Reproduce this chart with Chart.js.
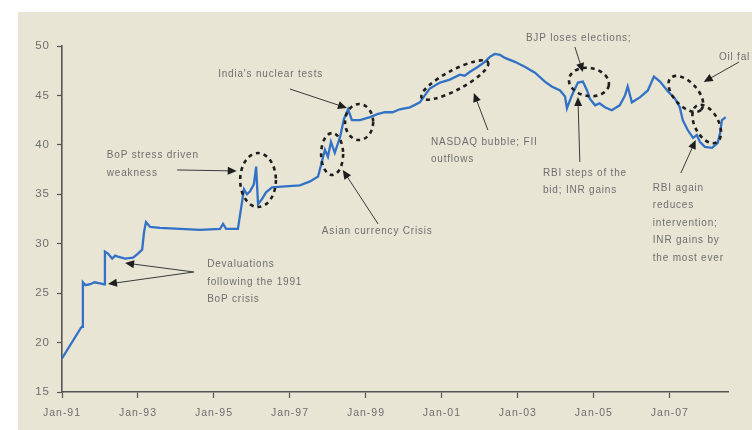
<!DOCTYPE html>
<html>
<head>
<meta charset="utf-8">
<script src="https://cdn.jsdelivr.net/npm/chart.js@4.4.1/dist/chart.umd.min.js"></script>
<style>
  html, body { margin: 0; padding: 0; background: #ffffff; }
  #wrap { width: 752px; height: 430px; }
</style>
</head>
<body>
<div id="wrap"><canvas id="c" width="752" height="430"></canvas></div>
<script>
// INR per USD, read at irregular dates (decimal years)
const years = [
  1991.00, 1991.50, 1991.53, 1991.55, 1991.62, 1991.74, 1991.86, 1992.00, 1992.11, 1992.13,
  1992.21, 1992.32, 1992.40, 1992.47, 1992.66, 1992.87, 1993.00, 1993.11, 1993.16, 1993.21,
  1993.32, 1993.58, 1994.11, 1994.63, 1995.16, 1995.24, 1995.32, 1995.63, 1995.71, 1995.79,
  1995.87, 1995.95, 1996.05, 1996.11, 1996.16, 1996.26, 1996.37, 1996.53, 1996.87, 1997.26,
  1997.53, 1997.74, 1997.84, 1997.92, 1998.00, 1998.08, 1998.18, 1998.32, 1998.42, 1998.53,
  1998.63, 1998.84, 1999.11, 1999.30, 1999.50, 1999.70, 1999.89, 2000.16, 2000.42, 2000.55,
  2000.68, 2000.95, 2001.21, 2001.47, 2001.60, 2001.74, 2001.95, 2002.13, 2002.26, 2002.39,
  2002.53, 2002.66, 2002.92, 2003.18, 2003.45, 2003.71, 2003.89, 2004.11, 2004.24, 2004.29,
  2004.42, 2004.58, 2004.71, 2004.82, 2004.89, 2005.03, 2005.15, 2005.29, 2005.47, 2005.68,
  2005.82, 2005.89, 2006.00, 2006.21, 2006.42, 2006.58, 2006.74, 2006.95, 2007.13, 2007.26,
  2007.34, 2007.47, 2007.61, 2007.71, 2007.79, 2007.92, 2008.11, 2008.26, 2008.32, 2008.37,
  2008.47
];
const inrPerUsd = [
  18.4, 21.5, 21.6, 26.1, 25.8, 25.9, 26.1, 26.0, 25.9, 29.2,
  29.0, 28.5, 28.8, 28.7, 28.5, 28.6, 29.0, 29.4, 31.2, 32.2,
  31.7, 31.6, 31.5, 31.4, 31.5, 32.0, 31.5, 31.5, 33.5, 35.5,
  35.0, 35.3, 36.0, 37.8, 34.0, 34.5, 35.2, 35.7, 35.8, 35.9,
  36.3, 36.8, 38.3, 39.5, 38.8, 40.3, 39.2, 40.8, 42.6, 43.6,
  42.5, 42.5, 42.8, 43.1, 43.3, 43.3, 43.6, 43.8, 44.3, 45.0,
  45.7, 46.3, 46.6, 47.1, 47.0, 47.4, 47.9, 48.4, 48.9, 49.2,
  49.1, 48.8, 48.4, 47.9, 47.3, 46.4, 45.9, 45.5, 44.9, 43.7,
  45.0, 46.3, 46.4, 45.5, 44.7, 44.0, 44.2, 43.8, 43.5, 44.0,
  45.0, 45.9, 44.3, 44.8, 45.5, 46.9, 46.4, 45.4, 44.7, 43.8,
  42.5, 41.5, 40.7, 41.0, 40.3, 39.8, 39.7, 40.2, 41.2, 42.5,
  42.8
];
const xTickYears = [1991, 1993, 1995, 1997, 1999, 2001, 2003, 2005, 2007];
const yTicks = [15, 20, 25, 30, 35, 40, 45, 50];

// Event call-outs, positioned in data units (year, INR)
const notes = [
  { lines: ["India's nuclear tests"], at: [1995.11, 47.1] },
  { lines: ["BoP stress driven", "weakness"], at: [1992.18, 38.9] },
  { lines: ["Devaluations", "following the 1991", "BoP crisis"], at: [1994.82, 27.9] },
  { lines: ["Asian currency Crisis"], at: [1997.84, 31.3] },
  { lines: ["NASDAQ bubble; FII", "outflows"], at: [2000.71, 40.3] },
  { lines: ["BJP loses elections;"], at: [2003.21, 50.8] },
  { lines: ["RBI steps of the", "bid; INR gains"], at: [2003.66, 37.15] },
  { lines: ["Oil fal"], at: [2008.29, 48.9] },
  { lines: ["RBI again", "reduces", "intervention;", "INR gains by", "the most ever"], at: [2006.55, 35.64] }
];
const arrows = [
  { from: [1997.0, 45.65], to: [1998.5, 43.73] },
  { from: [1994.03, 37.46], to: [1995.6, 37.36] },
  { from: [1994.47, 27.14], to: [1992.21, 25.92] },
  { from: [1994.47, 27.14], to: [1992.66, 28.05] },
  { from: [1999.32, 32.0], to: [1998.39, 37.46] },
  { from: [2002.21, 41.5], to: [2001.84, 45.25] },
  { from: [2004.5, 49.9], to: [2004.71, 47.37] },
  { from: [2004.63, 38.27], to: [2004.58, 44.84] },
  { from: [2008.82, 48.38], to: [2007.89, 46.36] },
  { from: [2007.29, 37.15], to: [2007.68, 40.49] }
];
// Dashed rings: centre (year, INR), half-widths in years / INR, tilt in degrees
const rings = [
  { c: [1996.16, 36.44], rx: 0.47, ry: 2.73, tilt: 0 },
  { c: [1998.11, 39.07], rx: 0.29, ry: 2.12, tilt: 0 },
  { c: [1998.82, 42.31], rx: 0.37, ry: 1.82, tilt: 0 },
  { c: [2001.34, 46.56], rx: 0.99, ry: 1.0, tilt: -28 },
  { c: [2004.87, 46.36], rx: 0.53, ry: 1.42, tilt: 10 },
  { c: [2007.42, 45.15], rx: 0.58, ry: 1.2, tilt: 47 },
  { c: [2007.97, 42.11], rx: 0.55, ry: 1.2, tilt: 62 }
];

const INK = '#6e6e6e';
const AXIS = '#555555';

const spacing = {
  id: 'spacing',
  beforeLayout(chart) { chart.ctx.letterSpacing = '1px'; },
  beforeDraw(chart) {
    const ctx = chart.ctx;
    ctx.save();
    ctx.fillStyle = '#e8e5d5';
    ctx.fillRect(18, 12, chart.width - 18, chart.height - 12);
    ctx.restore();
    ctx.letterSpacing = '1px';
  }
};

const callouts = {
  id: 'callouts',
  afterDatasetsDraw(chart) {
    const ctx = chart.ctx;
    const xs = chart.scales.x, ys = chart.scales.y;
    const px = v => xs.getPixelForValue(v);
    const py = v => ys.getPixelForValue(v);
    const pxPerYear = Math.abs(px(1992) - px(1991));
    const pxPerUnit = Math.abs(py(20) - py(21));
    ctx.save();

    // dashed rings
    ctx.strokeStyle = '#1e1e1e';
    ctx.lineWidth = 2.6;
    ctx.setLineDash([4, 4]);
    rings.forEach(r => {
      ctx.beginPath();
      ctx.ellipse(px(r.c[0]), py(r.c[1]), r.rx * pxPerYear, r.ry * pxPerUnit,
                  r.tilt * Math.PI / 180, 0, Math.PI * 2);
      ctx.stroke();
    });
    ctx.setLineDash([]);

    // arrows
    ctx.strokeStyle = '#3a3a3a';
    ctx.fillStyle = '#1e1e1e';
    ctx.lineWidth = 1;
    arrows.forEach(a => {
      const x1 = px(a.from[0]), y1 = py(a.from[1]);
      const x2 = px(a.to[0]), y2 = py(a.to[1]);
      const ang = Math.atan2(y2 - y1, x2 - x1);
      const L = 9, W = 4;
      ctx.beginPath();
      ctx.moveTo(x1, y1);
      ctx.lineTo(x2 - Math.cos(ang) * L * 0.8, y2 - Math.sin(ang) * L * 0.8);
      ctx.stroke();
      ctx.beginPath();
      ctx.moveTo(x2, y2);
      ctx.lineTo(x2 - Math.cos(ang) * L - Math.sin(ang) * W, y2 - Math.sin(ang) * L + Math.cos(ang) * W);
      ctx.lineTo(x2 - Math.cos(ang) * L + Math.sin(ang) * W, y2 - Math.sin(ang) * L - Math.cos(ang) * W);
      ctx.closePath();
      ctx.fill();
    });

    // text
    ctx.fillStyle = INK;
    ctx.font = '10px "Liberation Sans", Arial, sans-serif';
    ctx.letterSpacing = '0.8px';
    ctx.textAlign = 'left';
    ctx.textBaseline = 'middle';
    notes.forEach(n => {
      const x = px(n.at[0]), y = py(n.at[1]);
      n.lines.forEach((t, i) => ctx.fillText(t, x, y + i * 17.5));
    });
    ctx.restore();
  }
};

new Chart(document.getElementById('c'), {
  type: 'line',
  data: {
    datasets: [{
      data: years.map((x, i) => ({ x, y: inrPerUsd[i] })),
      borderColor: '#3272c6',
      borderWidth: 2.3,
      pointRadius: 0,
      tension: 0,
      fill: false
    }]
  },
  options: {
    responsive: false,
    animation: false,
    events: [],
    layout: { padding: { top: 46, right: 24, left: 0, bottom: 0 } },
    plugins: { legend: { display: false }, tooltip: { enabled: false } },
    scales: {
      x: {
        type: 'linear',
        min: 1991,
        max: 2008.53,
        afterFit(s) { s.height = 38; },
        afterBuildTicks(s) { s.ticks = xTickYears.map(v => ({ value: v })); },
        border: { color: AXIS, width: 1.6 },
        grid: { drawOnChartArea: false, drawTicks: true, tickLength: 6, tickColor: AXIS, tickWidth: 1.2 },
        ticks: {
          color: INK,
          padding: 9,
          maxRotation: 0,
          autoSkip: false,
          font: { family: '"Liberation Sans", Arial, sans-serif', size: 10.5 },
          callback: v => 'Jan-' + String(v).slice(2)
        }
      },
      y: {
        min: 15,
        max: 50,
        afterFit(s) { s.width = 62; },
        afterBuildTicks(s) { s.ticks = yTicks.map(v => ({ value: v })); },
        border: { color: AXIS, width: 1.6 },
        grid: { drawOnChartArea: false, drawTicks: true, tickLength: 5, tickColor: AXIS, tickWidth: 1.2 },
        ticks: {
          color: INK,
          padding: 7,
          font: { family: '"Liberation Sans", Arial, sans-serif', size: 11.5 }
        }
      }
    }
  },
  plugins: [spacing, callouts]
});
</script>
</body>
</html>
